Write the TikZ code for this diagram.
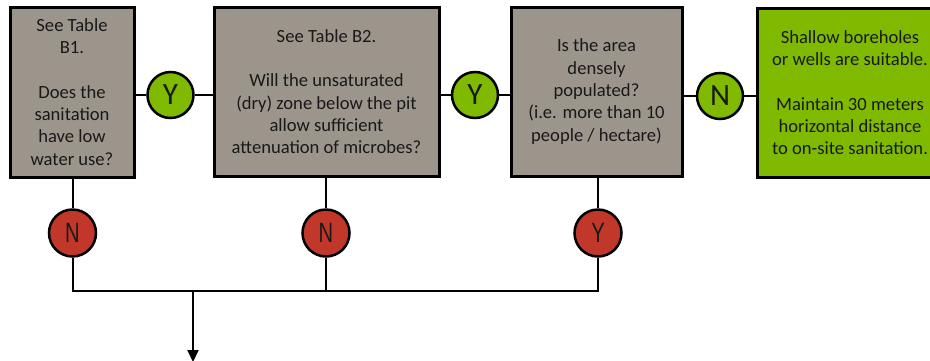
\documentclass[tikz,border=0pt]{standalone}
\usepackage{fontspec}
\setmainfont{Carlito}
\newfontfamily\narrowfont{Liberation Sans}
\usetikzlibrary{arrows.meta}
\definecolor{boxgray}{RGB}{155,149,140}
\definecolor{okgreen}{RGB}{127,186,0}
\definecolor{nored}{RGB}{193,56,42}
\definecolor{txt}{RGB}{25,25,25}
\begin{document}
\begin{tikzpicture}[x=1pt,y=-1pt,
  qbox/.style={draw=black,line width=3pt,fill=boxgray,inner sep=0pt,
    align=center,text=txt,font=\fontsize{18.6}{22.3}\selectfont},
  gbox/.style={qbox,fill=okgreen},
  ycirc/.style={circle,draw=black,line width=2.5pt,fill=okgreen,minimum size=46pt,
    inner sep=0pt,text=txt,font=\fontsize{31}{31}\selectfont},
  ncirc/.style={circle,draw=black,line width=2.5pt,fill=nored,minimum size=47pt,
    inner sep=0pt,text=txt,font=\narrowfont\fontsize{28}{28}\selectfont},
  conn/.style={draw=black,line width=2pt}]
\useasboundingbox (0,0) rectangle (930,360);
\clip (0,0) rectangle (930,360);
\node[qbox,minimum width=124pt,minimum height=170pt] (b1) at (72,92)
  {See Table\\B1.\\[22.3pt]Does the\\sanitation\\have low\\water use?};
\node[qbox,minimum width=225pt,minimum height=169pt] (b2) at (326.5,91.5)
  {See Table B2.\\[22.3pt]Will the unsaturated\\(dry) zone below the pit\\allow sufficient\\attenuation of microbes?};
\node[qbox,minimum width=171pt,minimum height=169pt] (b3) at (596.5,91.5)
  {Is the area\\densely\\populated?\\(i.e. more than 10\\people / hectare)};
\node[gbox,minimum width=186pt,minimum height=169pt] (b4) at (850,92.5)
  {Shallow boreholes\\or wells are suitable.\\[22.3pt]Maintain 30 meters\\horizontal distance\\to on-site sanitation.};
\node[ycirc] (y1) at (170.5,95) {Y};
\node[ycirc] (y2) at (475,95) {Y};
\node[ycirc] (n3) at (720,96) {N};
\node[ncirc] (r1) at (72.5,233) {\scalebox{0.72}[1]{N}};
\node[ncirc] (r2) at (326,233) {\scalebox{0.72}[1]{N}};
\node[ncirc] (r3) at (598,233) {\scalebox{0.72}[1]{Y}};
\coordinate (j1) at (72.5,291);
\coordinate (j2) at (326,291);
\coordinate (j3) at (598,291);
\coordinate (jo) at (193,291);
\coordinate (out) at (193,362);
\draw[conn] (y1.west) -- (y1.west -| b1.east);
\draw[conn] (y1.east) -- (y1.east -| b2.west);
\draw[conn] (y2.west) -- (y2.west -| b2.east);
\draw[conn] (y2.east) -- (y2.east -| b3.west);
\draw[conn] (n3.west) -- (n3.west -| b3.east);
\draw[conn] (n3.east) -- (n3.east -| b4.west);
\draw[conn] (r1.north |- b1.south) -- (r1.north);
\draw[conn] (r2.north |- b2.south) -- (r2.north);
\draw[conn] (r3.north |- b3.south) -- (r3.north);
\draw[conn] (r1.south) -- (j1) -- (j3) -- (r3.south);
\draw[conn] (r2.south) -- (j2);
\draw[conn,-{Triangle[length=12pt,width=11pt]}] (jo) -- (out);
\end{tikzpicture}
\end{document}
